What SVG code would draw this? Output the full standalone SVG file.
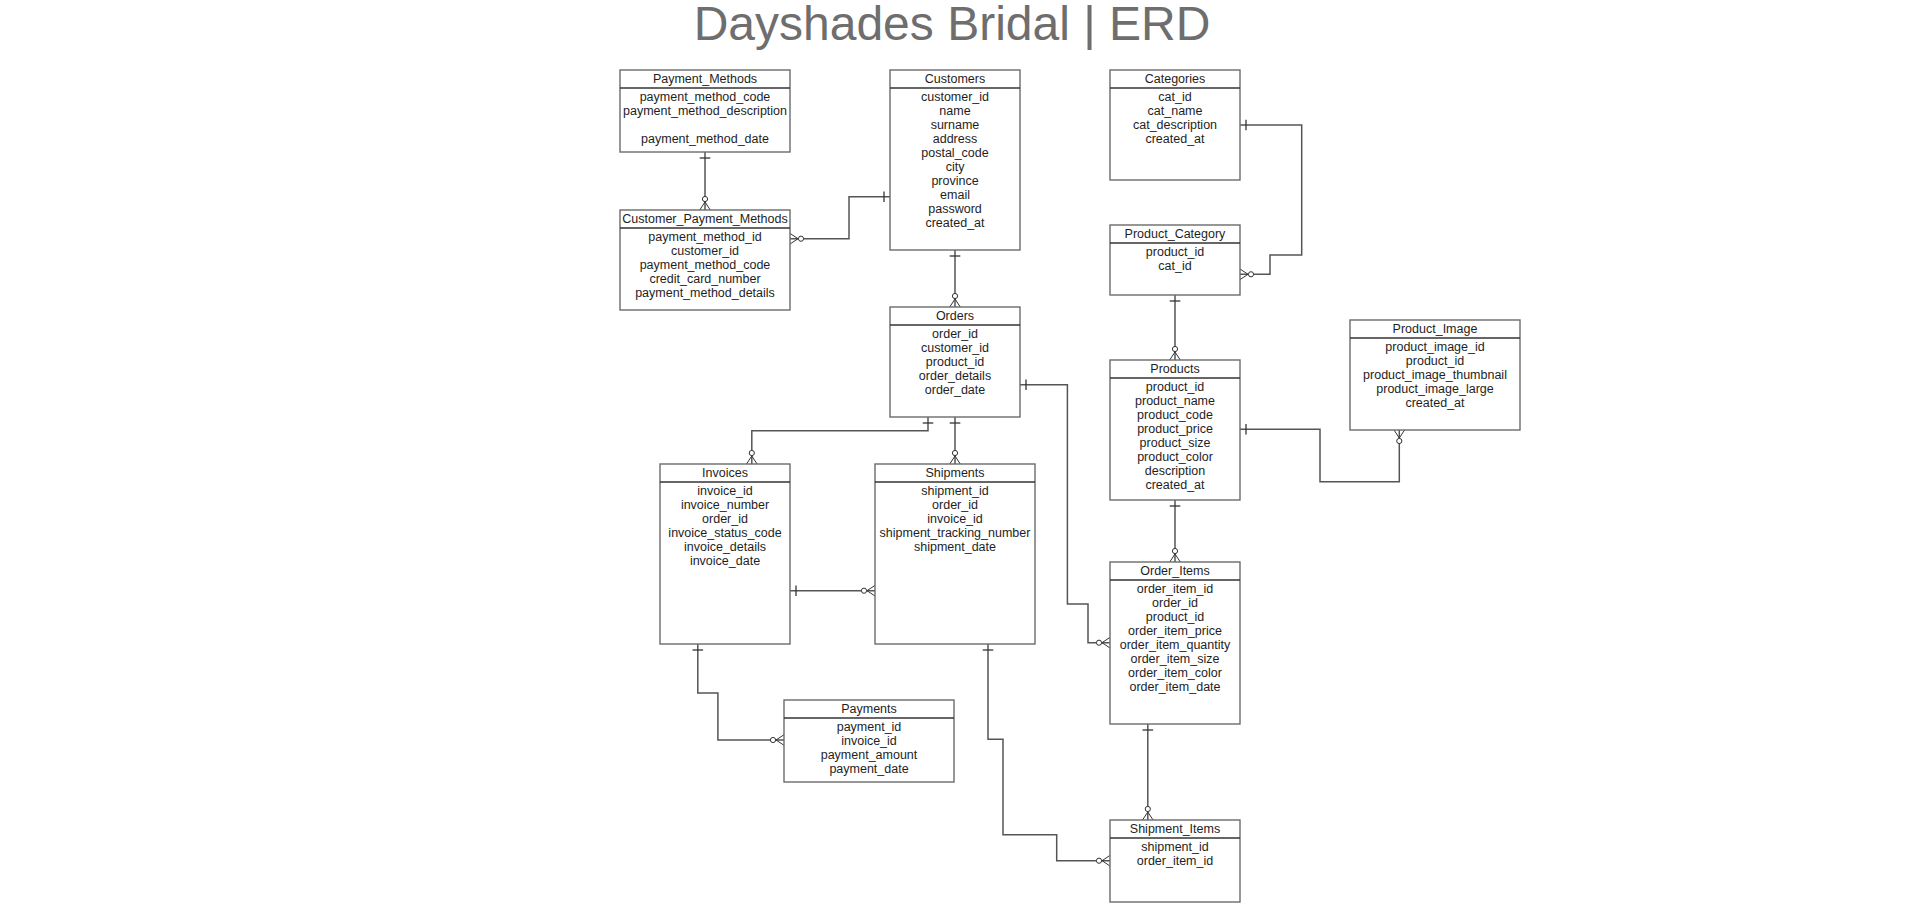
<svg xmlns="http://www.w3.org/2000/svg" width="1918" height="922" viewBox="0 0 1918 922">
<style>
.bg{fill:#ffffff}
.title{font-family:"Liberation Sans",Arial,sans-serif;font-size:48px;fill:#6e6e6e;text-anchor:middle}
.box{fill:#ffffff;stroke:#6b6b6b;stroke-width:1.4}
.hl{stroke:#333333;stroke-width:1.5}
.t{font-family:"Liberation Sans",Arial,sans-serif;font-size:12.5px;fill:#1e1e1e;text-anchor:middle}
.c{fill:none;stroke:#555555;stroke-width:1.5;marker-start:url(#one);marker-end:url(#many)}
.c2{fill:none;stroke:#555555;stroke-width:1.5;marker-start:url(#many);marker-end:url(#one)}
.m{fill:none;stroke:#333333;stroke-width:1}
</style>
<defs>
<marker id="one" markerUnits="userSpaceOnUse" orient="auto-start-reverse" refX="0" refY="0" markerWidth="20" markerHeight="20" viewBox="-15 -10 20 20" overflow="visible">
<path class="m" d="M-6,-5.3 V5.3" style="stroke-width:1.3"/>
</marker>
<marker id="many" markerUnits="userSpaceOnUse" orient="auto-start-reverse" refX="0" refY="0" markerWidth="20" markerHeight="20" viewBox="-15 -10 20 20" overflow="visible">
<path class="m" d="M0,-5.3 L-8,0 L0,5.3"/>
<circle cx="-11" cy="0" r="2.6" fill="#ffffff" stroke="#333333" stroke-width="1"/>
</marker>
</defs>
<rect class="bg" x="0" y="0" width="1918" height="922"/>
<text class="title" x="952" y="40">Dayshades Bridal | ERD</text>

<g id="connectors">
<path class="c" d="M705,152 V210"/>
<path class="c2" d="M790,238.7 H849 V196.7 H890"/>
<path class="c" d="M955,250 V307"/>
<path class="c" d="M1240,125 H1301.7 V255 H1270 V274.3 H1240"/>
<path class="c" d="M1175,295 V360"/>
<path class="c" d="M1240,429.3 H1320 V481.7 H1399.3 V430"/>
<path class="c" d="M928,417 V430.7 H751.8 V464"/>
<path class="c" d="M955,417 V464"/>
<path class="c" d="M1020,384.7 H1067.4 V604 H1088 V642.7 H1110"/>
<path class="c" d="M790,590.7 H875"/>
<path class="c" d="M697.8,644 V693 H717.9 V740 H784"/>
<path class="c" d="M988,644 V739.3 H1003 V834.7 H1056.7 V860.7 H1110"/>
<path class="c" d="M1147.8,724 V820"/>
<path class="c" d="M1175,500 V562"/>
</g>

<g id="Payment_Methods">
<rect class="box" x="620" y="70" width="170" height="82"/>
<line class="hl" x1="620" y1="88" x2="790" y2="88"/>
<text class="t" x="705" y="83.4">Payment_Methods</text>
<text class="t" x="705" y="101">payment_method_code</text>
<text class="t" x="705" y="115">payment_method_description</text>
<text class="t" x="705" y="143">payment_method_date</text>
</g>

<g id="Customer_Payment_Methods">
<rect class="box" x="620" y="210" width="170" height="100"/>
<line class="hl" x1="620" y1="228" x2="790" y2="228"/>
<text class="t" x="705" y="223.4">Customer_Payment_Methods</text>
<text class="t" x="705" y="241">payment_method_id</text>
<text class="t" x="705" y="255">customer_id</text>
<text class="t" x="705" y="269">payment_method_code</text>
<text class="t" x="705" y="283">credit_card_number</text>
<text class="t" x="705" y="297">payment_method_details</text>
</g>

<g id="Customers">
<rect class="box" x="890" y="70" width="130" height="180"/>
<line class="hl" x1="890" y1="88" x2="1020" y2="88"/>
<text class="t" x="955" y="83.4">Customers</text>
<text class="t" x="955" y="101">customer_id</text>
<text class="t" x="955" y="115">name</text>
<text class="t" x="955" y="129">surname</text>
<text class="t" x="955" y="143">address</text>
<text class="t" x="955" y="157">postal_code</text>
<text class="t" x="955" y="171">city</text>
<text class="t" x="955" y="185">province</text>
<text class="t" x="955" y="199">email</text>
<text class="t" x="955" y="213">password</text>
<text class="t" x="955" y="227">created_at</text>
</g>

<g id="Categories">
<rect class="box" x="1110" y="70" width="130" height="110"/>
<line class="hl" x1="1110" y1="88" x2="1240" y2="88"/>
<text class="t" x="1175" y="83.4">Categories</text>
<text class="t" x="1175" y="101">cat_id</text>
<text class="t" x="1175" y="115">cat_name</text>
<text class="t" x="1175" y="129">cat_description</text>
<text class="t" x="1175" y="143">created_at</text>
</g>

<g id="Product_Category">
<rect class="box" x="1110" y="225" width="130" height="70"/>
<line class="hl" x1="1110" y1="243" x2="1240" y2="243"/>
<text class="t" x="1175" y="238.4">Product_Category</text>
<text class="t" x="1175" y="256">product_id</text>
<text class="t" x="1175" y="270">cat_id</text>
</g>

<g id="Orders">
<rect class="box" x="890" y="307" width="130" height="110"/>
<line class="hl" x1="890" y1="325" x2="1020" y2="325"/>
<text class="t" x="955" y="320.4">Orders</text>
<text class="t" x="955" y="338">order_id</text>
<text class="t" x="955" y="352">customer_id</text>
<text class="t" x="955" y="366">product_id</text>
<text class="t" x="955" y="380">order_details</text>
<text class="t" x="955" y="394">order_date</text>
</g>

<g id="Products">
<rect class="box" x="1110" y="360" width="130" height="140"/>
<line class="hl" x1="1110" y1="378" x2="1240" y2="378"/>
<text class="t" x="1175" y="373.4">Products</text>
<text class="t" x="1175" y="391">product_id</text>
<text class="t" x="1175" y="405">product_name</text>
<text class="t" x="1175" y="419">product_code</text>
<text class="t" x="1175" y="433">product_price</text>
<text class="t" x="1175" y="447">product_size</text>
<text class="t" x="1175" y="461">product_color</text>
<text class="t" x="1175" y="475">description</text>
<text class="t" x="1175" y="489">created_at</text>
</g>

<g id="Product_Image">
<rect class="box" x="1350" y="320" width="170" height="110"/>
<line class="hl" x1="1350" y1="338" x2="1520" y2="338"/>
<text class="t" x="1435" y="333.4">Product_Image</text>
<text class="t" x="1435" y="351">product_image_id</text>
<text class="t" x="1435" y="365">product_id</text>
<text class="t" x="1435" y="379">product_image_thumbnail</text>
<text class="t" x="1435" y="393">product_image_large</text>
<text class="t" x="1435" y="407">created_at</text>
</g>

<g id="Invoices">
<rect class="box" x="660" y="464" width="130" height="180"/>
<line class="hl" x1="660" y1="482" x2="790" y2="482"/>
<text class="t" x="725" y="477.4">Invoices</text>
<text class="t" x="725" y="495">invoice_id</text>
<text class="t" x="725" y="509">invoice_number</text>
<text class="t" x="725" y="523">order_id</text>
<text class="t" x="725" y="537">invoice_status_code</text>
<text class="t" x="725" y="551">invoice_details</text>
<text class="t" x="725" y="565">invoice_date</text>
</g>

<g id="Shipments">
<rect class="box" x="875" y="464" width="160" height="180"/>
<line class="hl" x1="875" y1="482" x2="1035" y2="482"/>
<text class="t" x="955" y="477.4">Shipments</text>
<text class="t" x="955" y="495">shipment_id</text>
<text class="t" x="955" y="509">order_id</text>
<text class="t" x="955" y="523">invoice_id</text>
<text class="t" x="955" y="537">shipment_tracking_number</text>
<text class="t" x="955" y="551">shipment_date</text>
</g>

<g id="Order_Items">
<rect class="box" x="1110" y="562" width="130" height="162"/>
<line class="hl" x1="1110" y1="580" x2="1240" y2="580"/>
<text class="t" x="1175" y="575.4">Order_Items</text>
<text class="t" x="1175" y="593">order_item_id</text>
<text class="t" x="1175" y="607">order_id</text>
<text class="t" x="1175" y="621">product_id</text>
<text class="t" x="1175" y="635">order_item_price</text>
<text class="t" x="1175" y="649">order_item_quantity</text>
<text class="t" x="1175" y="663">order_item_size</text>
<text class="t" x="1175" y="677">order_item_color</text>
<text class="t" x="1175" y="691">order_item_date</text>
</g>

<g id="Payments">
<rect class="box" x="784" y="700" width="170" height="82"/>
<line class="hl" x1="784" y1="718" x2="954" y2="718"/>
<text class="t" x="869" y="713.4">Payments</text>
<text class="t" x="869" y="731">payment_id</text>
<text class="t" x="869" y="745">invoice_id</text>
<text class="t" x="869" y="759">payment_amount</text>
<text class="t" x="869" y="773">payment_date</text>
</g>

<g id="Shipment_Items">
<rect class="box" x="1110" y="820" width="130" height="82"/>
<line class="hl" x1="1110" y1="838" x2="1240" y2="838"/>
<text class="t" x="1175" y="833.4">Shipment_Items</text>
<text class="t" x="1175" y="851">shipment_id</text>
<text class="t" x="1175" y="865">order_item_id</text>
</g>
</svg>
